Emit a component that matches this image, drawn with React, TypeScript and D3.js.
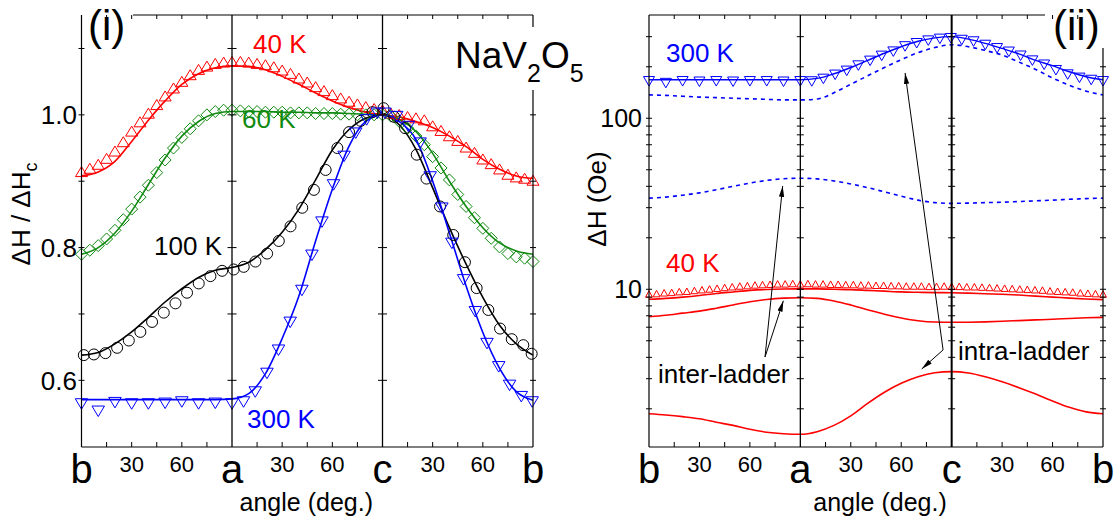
import React from 'react';
import * as d3 from 'd3';

const FONT = '"Liberation Sans", Arial, Helvetica, sans-serif';

// angle grids (degrees along b -> a -> c -> b)
const ANG10 = d3.range(0, 271, 10);
const ANG5 = d3.range(0, 271, 5);
const ANG45 = d3.range(0, 270.01, 4.5);

// ---------- panel (i): normalized linewidth ----------
const fit40L = [0.908, 0.914, 0.93, 0.96, 0.992, 1.021, 1.046, 1.062, 1.071, 1.074, 1.073, 1.068, 1.058, 1.046, 1.033, 1.021, 1.011, 1.004, 1.0, 0.997, 0.99, 0.981, 0.968, 0.952, 0.933, 0.918, 0.908, 0.904];
const tri40L = [
  0.912, 0.917, 0.923, 0.932, 0.943, 0.957, 0.973, 0.987, 1.0, 1.013, 1.026, 1.038, 1.048, 1.058, 1.066, 1.071, 1.075, 1.077, 1.078,
  1.078, 1.077, 1.075, 1.073, 1.07, 1.065, 1.06, 1.053, 1.047, 1.04, 1.034, 1.028, 1.023, 1.018, 1.014, 1.01, 1.007, 1.005,
  1.0, 0.998, 0.995, 0.993, 0.99, 0.981, 0.974, 0.966, 0.959, 0.949, 0.941, 0.931, 0.924, 0.916, 0.908, 0.904, 0.902, 0.899,
];
const fit60L = [0.79, 0.8, 0.822, 0.855, 0.895, 0.935, 0.968, 0.99, 1.002, 1.005, 1.005, 1.005, 1.004, 1.004, 1.003, 1.003, 1.002, 1.001, 1.0, 0.993, 0.975, 0.942, 0.9, 0.862, 0.83, 0.807, 0.795, 0.79];
const dia60L = [
  0.79, 0.796, 0.803, 0.813, 0.826, 0.842, 0.858, 0.876, 0.894, 0.913, 0.932, 0.95, 0.966, 0.979, 0.991, 1.0, 1.005, 1.007, 1.007,
  1.006, 1.005, 1.005, 1.004, 1.004, 1.004, 1.003, 1.003, 1.003, 1.002, 1.002, 1.002, 1.001, 1.001, 1.0, 1.0, 1.0, 1.0,
  0.998, 0.99, 0.98, 0.968, 0.955, 0.937, 0.92, 0.902, 0.88, 0.862, 0.845, 0.829, 0.814, 0.801, 0.791, 0.786, 0.784, 0.779,
];
const fit100L = [0.638, 0.642, 0.655, 0.673, 0.695, 0.718, 0.738, 0.755, 0.766, 0.77, 0.778, 0.797, 0.823, 0.858, 0.902, 0.947, 0.978, 0.995, 1.0, 0.985, 0.948, 0.89, 0.83, 0.775, 0.725, 0.683, 0.655, 0.638];
const cir100Ang = [1.4, 7.4, 14.3, 21.3, 28.3, 35.2, 42.2, 49.2, 56.2, 63.1, 70.1, 77.1, 84.1, 91, 97, 104, 111, 118, 125, 132, 139, 146, 153, 160, 167, 174, 180.6, 187, 193.5, 200.5, 206.3, 214.4, 222.3, 229.3, 236.3, 243.3, 250.3, 257.3, 264.2, 269.2];
const cir100L = [0.638, 0.639, 0.641, 0.649, 0.66, 0.673, 0.688, 0.702, 0.716, 0.732, 0.746, 0.757, 0.765, 0.767, 0.771, 0.779, 0.791, 0.81, 0.832, 0.86, 0.887, 0.917, 0.95, 0.974, 0.991, 1.004, 1.01, 0.997, 0.98, 0.94, 0.904, 0.862, 0.819, 0.778, 0.739, 0.706, 0.678, 0.662, 0.653, 0.64];
const fit300L = [0.571, 0.571, 0.571, 0.571, 0.571, 0.571, 0.571, 0.571, 0.571, 0.572, 0.58, 0.61, 0.663, 0.727, 0.81, 0.888, 0.953, 0.99, 1.0, 0.99, 0.963, 0.9, 0.822, 0.742, 0.672, 0.618, 0.583, 0.57];
const tri300LAng = [0, 10, 20, 30, 40, 50, 60, 70, 80, 90, 96.9, 103.9, 110.9, 117.8, 124.8, 131.8, 137.8, 143.8, 150.7, 157, 164, 170.5, 177, 181.5, 188.5, 195.5, 202.5, 208.5, 215.5, 221.5, 228.5, 235.5, 242.5, 249.5, 256, 263, 269.5];
const tri300L = [0.567, 0.556, 0.569, 0.567, 0.567, 0.568, 0.57, 0.567, 0.568, 0.567, 0.57, 0.585, 0.613, 0.648, 0.69, 0.738, 0.791, 0.841, 0.897, 0.94, 0.975, 0.995, 1.005, 1.005, 1.0, 0.985, 0.96, 0.909, 0.862, 0.809, 0.754, 0.706, 0.658, 0.623, 0.595, 0.578, 0.57];

// ---------- panel (ii): absolute linewidth (Oe) ----------
const fitTot300R = [168, 168, 168, 168, 168, 168, 168, 168, 168, 168, 171, 182, 198, 218, 240, 262, 282, 295, 300, 290, 274, 256, 238, 218, 203, 187, 175, 168];
const intra300R = [137, 136, 134.5, 133, 132, 131, 130, 129, 128, 128, 129.5, 141, 158, 177, 198, 220, 242, 259, 269, 262, 249, 234, 213, 193, 172, 156, 144, 137];
const inter300R = [34.1, 34.6, 35.5, 36.6, 38.2, 40, 41.8, 43.3, 44.3, 44.6, 44.2, 43, 41.3, 39.3, 37.1, 35, 33.2, 32.1, 31.8, 31.9, 32.1, 32.3, 32.6, 32.9, 33.2, 33.6, 33.9, 34.1];
const tri300RAng = [0, 10, 20, 30, 40, 50, 60, 70, 80, 90, 96.8, 103.7, 110.7, 117.6, 124.5, 131.5, 138.4, 145.3, 152.3, 159.2, 166.1, 173, 179.5, 186, 193, 200, 207, 214, 221, 228, 235, 242, 249, 256, 263, 270];
const tri300R = [168, 164, 168, 167, 168, 167, 168, 168, 167, 168, 167.6, 173.5, 183.3, 193.4, 207.6, 221.3, 236.6, 250.4, 268.7, 280.5, 290.5, 297.5, 300, 293, 287, 274, 262, 250, 237, 222, 210, 195, 184, 176, 171, 168];
const fitTot40R = [8.74, 8.85, 9.0, 9.2, 9.45, 9.65, 9.85, 9.97, 10.03, 10.05, 10.05, 10.0, 9.95, 9.85, 9.75, 9.65, 9.6, 9.56, 9.55, 9.5, 9.42, 9.35, 9.25, 9.12, 9.0, 8.88, 8.78, 8.7];
const inter40R = [6.91, 7.05, 7.25, 7.45, 7.75, 8.1, 8.45, 8.72, 8.88, 8.93, 8.85, 8.55, 8.1, 7.6, 7.15, 6.8, 6.55, 6.43, 6.41, 6.42, 6.45, 6.5, 6.56, 6.62, 6.68, 6.75, 6.81, 6.85];
const intra40R = [1.87, 1.84, 1.8, 1.75, 1.67, 1.6, 1.52, 1.46, 1.43, 1.42, 1.47, 1.6, 1.82, 2.15, 2.5, 2.82, 3.08, 3.25, 3.3, 3.24, 3.08, 2.88, 2.66, 2.44, 2.22, 2.04, 1.92, 1.87];
const tri40R = [
  9.25, 9.3, 9.4, 9.45, 9.55, 9.6, 9.7, 9.8, 9.9, 10.0, 10.1, 10.2, 10.3, 10.35, 10.45, 10.5, 10.55, 10.6, 10.6, 10.65, 10.6,
  10.65, 10.6, 10.6, 10.55, 10.55, 10.5, 10.5, 10.45, 10.45, 10.4, 10.4, 10.35, 10.35, 10.3, 10.3, 10.3, 10.25, 10.25, 10.3, 10.25,
  10.25, 10.2, 10.2, 10.15, 10.1, 10.05, 10.0, 9.95, 9.9, 9.85, 9.8, 9.75, 9.65, 9.6, 9.55, 9.5, 9.4, 9.35, 9.3, 9.25,
];

// axis ticks / labels
const xLabelAng = [0, 30, 60, 90, 120, 150, 180, 210, 240, 270];
const xLabels = ['b', '30', '60', 'a', '30', '60', 'c', '30', '60', 'b'];
const xMinorAng = [15, 30, 45, 60, 75, 105, 120, 135, 150, 165, 195, 210, 225, 240, 255];
const yLTicks = [0.6, 0.7, 0.8, 0.9, 1.0, 1.1];
const yLLabels = [0.6, 0.8, 1.0];
const yRTicks = [2, 3, 4, 5, 6, 7, 8, 9, 10, 20, 30, 40, 50, 60, 70, 80, 90, 100, 200, 300];
const yRLabels = [10, 100];

// arrows (data coordinates of panel ii): [fromAngle, fromValue, toAngle, toValue]
const arrows = [
  [69, 4.02, 79.5, 40.2],
  [69, 4.02, 79.9, 8.57],
  [174.9, 4.42, 152.3, 184],
  [174.9, 4.42, 162.2, 3.42],
];

const RED = '#ff0000';
const GREEN = '#108a10';
const BLUE = '#0000ff';

const triUp = (w: number, h: number) => `M0,${-2 * h / 3}L${w / 2},${h / 3}L${-w / 2},${h / 3}Z`;
const triDown = (w: number, h: number) => `M0,${2 * h / 3}L${w / 2},${-h / 3}L${-w / 2},${-h / 3}Z`;
const diamond = (s: number) => `M0,${-s}L${s},0L0,${s}L${-s},0Z`;

export default function App() {
  const TOP = 15, BOT = 447;
  const xL = d3.scaleLinear().domain([0, 270]).range([81.5, 533]);
  const yL = d3.scaleLinear().domain([0.5, 1.15]).range([446.7, 15.3]);
  const xR = d3.scaleLinear().domain([0, 270]).range([649, 1103]);
  const yR = d3.scaleLog().domain([1.196, 401.6]).range([447, 15]);

  const mkLine = (xs: any, ys: any, angs: number[], vals: number[]) =>
    d3.line<number>().x((_, i) => xs(angs[i])).y((d) => ys(d)).curve(d3.curveMonotoneX)(vals) || '';

  const vTicks = (x: number, ys: number[], half: number, key: string) =>
    ys.map((y, i) => <line key={key + i} x1={x - half} x2={x + half} y1={y} y2={y} stroke="#000" strokeWidth={1} />);

  const xTicks = (xs: any, key: string) =>
    xMinorAng.map((a, i) => (
      <g key={key + i}>
        <line x1={xs(a)} x2={xs(a)} y1={BOT} y2={BOT - 5} stroke="#000" strokeWidth={1} />
        <line x1={xs(a)} x2={xs(a)} y1={TOP} y2={TOP + 4} stroke="#000" strokeWidth={1} />
      </g>
    ));

  const xTickLabels = (xs: any, key: string) =>
    xLabelAng.map((a, i) => {
      const big = /[a-z]/.test(xLabels[i]);
      return (
        <text key={key + i} x={xs(a)} y={big ? 483 : 472} textAnchor="middle" fontSize={big ? 40 : 22} fill="#000">
          {xLabels[i]}
        </text>
      );
    });

  const yLpx = yLTicks.map((v) => yL(v));
  const yRpx = yRTicks.map((v) => yR(v));

  return (
    <svg width={1120} height={526} style={{ position: 'absolute', left: 0, top: 0, background: '#fff' }} fontFamily={FONT}>
      <defs>
        <marker id="ah" viewBox="0 0 10 10" refX="10" refY="5" markerWidth="11" markerHeight="11" orient="auto" markerUnits="userSpaceOnUse">
          <path d="M0,2.6L10,5L0,7.4Z" fill="#000" />
        </marker>
      </defs>
      <rect x={0} y={0} width={1120} height={526} fill="#fff" />

      {/* ================= Panel (i) ================= */}
      <g>
        <path d={mkLine(xL, yL, ANG10, fit40L)} fill="none" stroke={RED} strokeWidth={1.6} />
        <path d={mkLine(xL, yL, ANG10, fit60L)} fill="none" stroke={GREEN} strokeWidth={1.6} />
        <path d={mkLine(xL, yL, ANG10, fit100L)} fill="none" stroke="#000" strokeWidth={1.6} />
        <path d={mkLine(xL, yL, ANG10, fit300L)} fill="none" stroke={BLUE} strokeWidth={1.6} />

        {tri40L.map((v, i) => (
          <path key={'t40' + i} d={triUp(12, 10)} transform={`translate(${xL(ANG5[i])},${yL(v)})`} fill="none" stroke={RED} strokeWidth={1} />
        ))}
        {dia60L.map((v, i) => (
          <path key={'d60' + i} d={diamond(6)} transform={`translate(${xL(ANG5[i])},${yL(v)})`} fill="none" stroke={GREEN} strokeWidth={1} />
        ))}
        {cir100L.map((v, i) => (
          <circle key={'c100' + i} cx={xL(cir100Ang[i])} cy={yL(v)} r={5.5} fill="none" stroke="#000" strokeWidth={1} />
        ))}
        {tri300L.map((v, i) => (
          <path key={'t300' + i} d={triDown(12.5, 10.5)} transform={`translate(${xL(tri300LAng[i])},${yL(v)})`} fill="none" stroke={BLUE} strokeWidth={1} />
        ))}

        {/* frame */}
        <line x1={xL(0)} x2={xL(0)} y1={TOP} y2={BOT} stroke="#000" strokeWidth={1.2} />
        <line x1={xL(0)} x2={xL(270)} y1={BOT} y2={BOT} stroke="#000" strokeWidth={1.2} />
        <line x1={133} x2={xL(270)} y1={TOP} y2={TOP} stroke="#000" strokeWidth={1.2} />
        <line x1={xL(270)} x2={xL(270)} y1={TOP} y2={BOT} stroke="#000" strokeWidth={1.2} />
        <line x1={xL(90)} x2={xL(90)} y1={TOP} y2={BOT} stroke="#000" strokeWidth={1.3} />
        <line x1={xL(180)} x2={xL(180)} y1={TOP} y2={BOT} stroke="#000" strokeWidth={1.3} />
        {vTicks(xL(0), yLpx, 3, 'lyl')}
        {vTicks(xL(90), yLpx, 4.5, 'lya')}
        {vTicks(xL(180), yLpx, 4.5, 'lyc')}
        {vTicks(xL(270), yLpx, 3, 'lyr')}
        {xTicks(xL, 'lx')}
        {xTickLabels(xL, 'lxl')}

        {yLLabels.map((v, i) => (
          <text key={'yll' + i} x={77} y={yL(v)} dy="0.36em" textAnchor="end" fontSize={26} fill="#000">
            {v.toFixed(1)}
          </text>
        ))}
        <text transform="translate(30,214) rotate(-90)" textAnchor="middle" fontSize={26} fill="#000">
          ΔH / ΔH<tspan fontSize={18} dy={7}>c</tspan>
        </text>
        <text x={(xL(0) + xL(270)) / 2 - 1} y={511} textAnchor="middle" fontSize={25} fill="#000">angle (deg.)</text>

        {/* labels */}
        <text x={88} y={40} fontSize={42} fill="#000">(i)</text>
        <rect x={450} y={27} width={142} height={63} fill="#fff" />
        <text x={455} y={68} fontSize={37} fill="#000">
          NaV<tspan fontSize={25} dy={14}>2</tspan><tspan fontSize={37} dy={-14}>O</tspan><tspan fontSize={25} dy={14}>5</tspan>
        </text>
        <text x={253} y={53} fontSize={26} fill={RED}>40 K</text>
        <text x={242} y={128} fontSize={26} fill={GREEN}>60 K</text>
        <text x={222} y={255} fontSize={26} textAnchor="end" fill="#000">100 K</text>
        <text x={247} y={428} fontSize={26} fill={BLUE}>300 K</text>
      </g>

      {/* ================= Panel (ii) ================= */}
      <g>
        <path d={mkLine(xR, yR, ANG10, intra300R)} fill="none" stroke={BLUE} strokeWidth={1.6} strokeDasharray="4,4" />
        <path d={mkLine(xR, yR, ANG10, inter300R)} fill="none" stroke={BLUE} strokeWidth={1.6} strokeDasharray="4,4" />
        <path d={mkLine(xR, yR, ANG10, fitTot300R)} fill="none" stroke={BLUE} strokeWidth={1.4} />
        <path d={mkLine(xR, yR, ANG10, fitTot40R)} fill="none" stroke={RED} strokeWidth={1.6} />
        <path d={mkLine(xR, yR, ANG10, inter40R)} fill="none" stroke={RED} strokeWidth={1.6} />
        <path d={mkLine(xR, yR, ANG10, intra40R)} fill="none" stroke={RED} strokeWidth={1.6} />

        {tri300R.map((v, i) => (
          <path key={'r300' + i} d={triDown(11, 9.5)} transform={`translate(${xR(tri300RAng[i])},${yR(v)})`} fill="none" stroke={BLUE} strokeWidth={1} />
        ))}
        {tri40R.map((v, i) => (
          <path key={'r40' + i} d={triUp(7, 6.5)} transform={`translate(${xR(ANG45[i])},${yR(v)})`} fill="none" stroke={RED} strokeWidth={1} />
        ))}

        {/* frame */}
        <line x1={xR(0)} x2={xR(0)} y1={TOP} y2={BOT} stroke="#000" strokeWidth={1.2} />
        <line x1={xR(0)} x2={xR(270)} y1={BOT} y2={BOT} stroke="#000" strokeWidth={1.2} />
        <line x1={xR(0)} x2={1045} y1={TOP} y2={TOP} stroke="#000" strokeWidth={1.2} />
        <line x1={xR(270)} x2={xR(270)} y1={48} y2={BOT} stroke="#000" strokeWidth={1.2} />
        <line x1={xR(90)} x2={xR(90)} y1={TOP} y2={BOT} stroke="#000" strokeWidth={1.3} />
        <line x1={xR(180)} x2={xR(180)} y1={TOP} y2={BOT} stroke="#000" strokeWidth={2} />
        {vTicks(xR(0), yRpx, 3, 'ryl')}
        {vTicks(xR(90), yRpx, 3.5, 'rya')}
        {vTicks(xR(180), yRpx, 3.5, 'ryc')}
        {vTicks(xR(270), yRpx.filter((y) => y > 50), 3, 'ryr')}
        {xTicks(xR, 'rx')}
        {xTickLabels(xR, 'rxl')}

        {yRLabels.map((v, i) => (
          <text key={'yrl' + i} x={642} y={yR(v)} dy="0.36em" textAnchor="end" fontSize={25} fill="#000">
            {v}
          </text>
        ))}
        <text transform="translate(606,199) rotate(-90)" textAnchor="middle" fontSize={26} fill="#000">ΔH (Oe)</text>
        <text x={880} y={511} textAnchor="middle" fontSize={25} fill="#000">angle (deg.)</text>

        {arrows.map((a, i) => (
          <line key={'ar' + i} x1={xR(a[0])} y1={yR(a[1])} x2={xR(a[2])} y2={yR(a[3])} stroke="#000" strokeWidth={1} markerEnd="url(#ah)" />
        ))}

        <text x={1053} y={40} fontSize={42} fill="#000">(ii)</text>
        <text x={666} y={62} fontSize={26} fill={BLUE}>300 K</text>
        <text x={666} y={272} fontSize={26} fill={RED}>40 K</text>
        <text x={658} y={383} fontSize={26} fill="#000">inter-ladder</text>
        <text x={958} y={360} fontSize={26} fill="#000">intra-ladder</text>
      </g>
    </svg>
  );
}
